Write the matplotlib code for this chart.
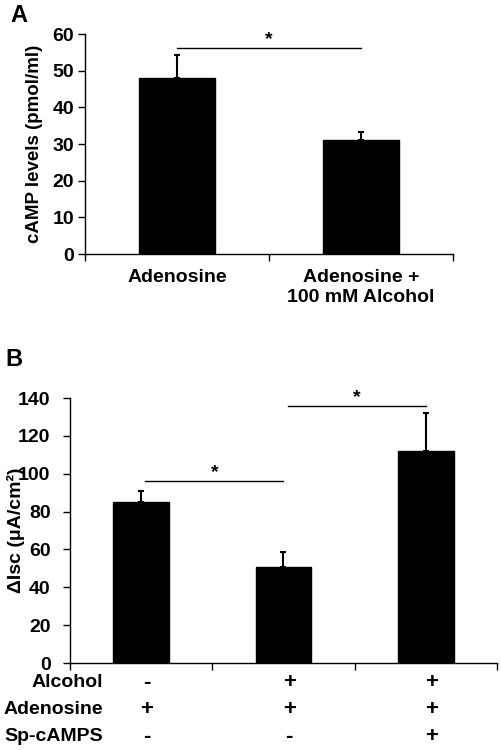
import numpy as np
import matplotlib
matplotlib.use('Agg')
import matplotlib.pyplot as plt

plt.rcParams["font.family"] = ["Liberation Sans", "DejaVu Sans"]
plt.rcParams["font.weight"] = "bold"

# panel A data
a_labels = ["Adenosine", "Adenosine +\n100 mM Alcohol"]
a_means = [48.0, 31.0]
a_err = [6.3, 2.4]
a_yticks = [0, 10, 20, 30, 40, 50, 60]
a_sig = (0, 1, 56.1)

# panel B data
b_means = [85.2, 50.5, 111.8]
b_err = [5.8, 8.0, 20.4]
b_yticks = [0, 20, 40, 60, 80, 100, 120, 140]
b_rows = ["Alcohol", "Adenosine", "Sp-cAMPS"]
b_signs = [["-", "+", "+"],
           ["+", "+", "+"],
           ["-", "-", "+"]]
b_sigs = [(0, 1, 96.0), (1, 2, 135.8)]

FS = 14

fig = plt.figure(figsize=(5.02, 7.5), dpi=100)

def style_axes(ax, n, yticks, pad):
    ax.spines['top'].set_visible(False)
    ax.spines['right'].set_visible(False)
    ax.set_xlim(-0.5, n - 0.5)
    ax.set_ylim(yticks[0], yticks[-1])
    ax.set_yticks(yticks)
    ax.tick_params(axis='y', direction='out', length=5, width=1, pad=pad, labelsize=FS)
    ax.set_xticks(np.arange(n + 1) - 0.5, minor=True)
    ax.tick_params(axis='x', which='minor', direction='out', length=5, width=1)
    ax.tick_params(axis='x', which='major', length=0)
    for s in ax.spines.values():
        s.set_linewidth(1)

def sig_line(ax, x0, x1, y, star_dy):
    ax.plot([x0, x1], [y, y], color='black', lw=1)
    ax.text((x0 + x1) / 2, y + star_dy, "*", ha='center', va='center',
            fontsize=FS, fontweight='bold')

# ---- A ----
axA = fig.add_axes([0.1693, 0.6613, 0.733, 0.2933])
xa = np.arange(len(a_means))
axA.bar(xa, a_means, width=0.41, color='black', edgecolor='black',
        yerr=[np.zeros(len(a_err)), a_err], capsize=2.5,
        error_kw=dict(ecolor='black', elinewidth=1.5, capthick=1.5))
style_axes(axA, len(a_means), a_yticks, 3)
axA.set_xticks(xa)
axA.set_xticklabels(a_labels, fontsize=FS, fontweight='bold')
axA.tick_params(axis='x', which='major', pad=11)
axA.set_ylabel("cAMP levels (pmol/ml)", fontsize=13.5, fontweight='bold')
axA.yaxis.set_label_coords(-0.115, 0.5)
sig_line(axA, a_sig[0], a_sig[1], a_sig[2], 2.3)
fig.text(0.02, 1 - 15 / 750, "A", fontsize=17, fontweight='bold', va='center', ha='left')

# ---- B ----
axB = fig.add_axes([0.1394, 0.116, 0.8506, 0.3533])
xb = np.arange(len(b_means))
axB.bar(xb, b_means, width=0.39, color='black', edgecolor='black',
        yerr=[np.zeros(len(b_err)), b_err], capsize=2.5,
        error_kw=dict(ecolor='black', elinewidth=1.5, capthick=1.5))
style_axes(axB, len(b_means), b_yticks, 9)
axB.set_xticks(xb)
axB.set_xticklabels([])
axB.set_ylabel("ΔIsc (μA/cm²)", fontsize=FS, fontweight='bold')
axB.yaxis.set_label_coords(-0.105, 0.5)
for x0, x1, y in b_sigs:
    sig_line(axB, x0 + 0.03, x1, y, 4.5)

# condition rows under panel B (axes fraction below the x axis)
row_y = [-0.072, -0.177, -0.279]
tr = axB.get_xaxis_transform()
for r, name in enumerate(b_rows):
    axB.text(-0.268, row_y[r], name, transform=tr, ha='right', va='center',
             fontsize=FS, fontweight='bold')
    for i, s in enumerate(b_signs[r]):
        axB.text(xb[i] + 0.04, row_y[r], s, transform=tr, ha='center', va='center',
                 fontsize=16, fontweight='bold')
fig.text(0.01, 1 - 359 / 750, "B", fontsize=17, fontweight='bold', va='center', ha='left')

fig.savefig("out.png", dpi=100)
